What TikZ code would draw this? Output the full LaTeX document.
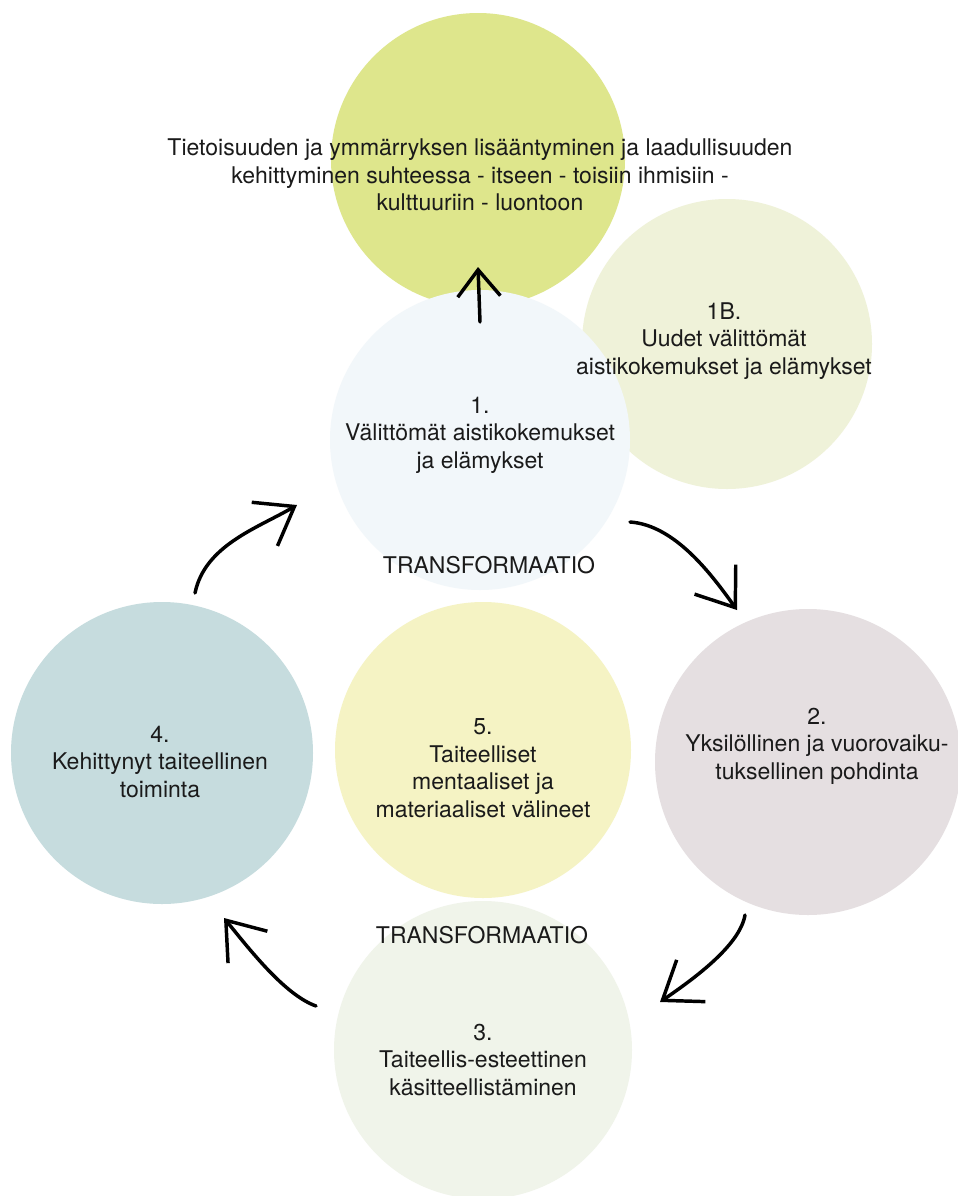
\documentclass[tikz,border=0pt]{standalone}
\usepackage{fontspec}
\setmainfont{TeX Gyre Heros}
\usetikzlibrary{arrows.meta}

\tikzset{
  blob/.style={circle, inner sep=0pt, draw=none},
  txt/.style={anchor=center, inner sep=0pt, align=center, text={rgb,255:red,26;green,26;blue,26},
    font=\fontsize{17.25}{20.6}\selectfont},
  arr/.style={line width=2.6pt, line cap=round, line join=round,
    -{Straight Barb[length=26pt, width=38pt, line width=2.6pt]}},
}

\begin{document}
\begin{tikzpicture}[x=0.75pt,y=0.75pt,yscale=-1,xscale=1]
\useasboundingbox (0,0) rectangle (957,1196);
\fill[white] (0,0) rectangle (957,1196);

%Shape: Circle [top]
\node[blob, fill={rgb, 255:red, 222; green, 230; blue, 140 }, minimum size=220.5pt] (top) at (478,160) {};
%Shape: Circle [1B]
\node[blob, fill={rgb, 255:red, 239; green, 242; blue, 217 }, minimum size=217.5pt] (c1b) at (727,344) {};
%Shape: Circle [1]
\node[blob, fill={rgb, 255:red, 242; green, 247; blue, 250 }, minimum size=225pt] (c1) at (480,440) {};
%Shape: Circle [2]
\node[blob, fill={rgb, 255:red, 229; green, 223; blue, 225 }, minimum size=229.5pt] (c2) at (808,762) {};
%Shape: Circle [3]
\node[blob, fill={rgb, 255:red, 240; green, 244; blue, 234 }, minimum size=223.5pt] (c3) at (483,1050) {};
%Shape: Circle [4]
\node[blob, fill={rgb, 255:red, 198; green, 220; blue, 222 }, minimum size=226.5pt] (c4) at (162,753) {};
%Shape: Circle [5]
\node[blob, fill={rgb, 255:red, 245; green, 243; blue, 196 }, minimum size=222pt] (c5) at (483,750) {};

%Arrow ends
\coordinate (upS) at (480,322);
\coordinate (upE) at (478,267);
\coordinate (a12S) at (630,522);
\coordinate (a12E) at (737,610);
\coordinate (a23S) at (745,915);
\coordinate (a23E) at (660,1002);
\coordinate (a34S) at (316,1006);
\coordinate (a34E) at (224,918);
\coordinate (a41S) at (195,593);
\coordinate (a41E) at (297,505);

%Straight Lines
\draw [arr, -{Straight Barb[length=20pt, width=32pt, line width=2.6pt]}] (upS) -- (upE) ;
%Curve Lines
\draw [arr] (a12S) .. controls (675,525) and (712,575) .. (a12E) ;
%Curve Lines
\draw [arr] (a23S) .. controls (740,945) and (695,978) .. (a23E) ;
%Curve Lines
\draw [arr] (a34S) .. controls (285,995) and (250,950) .. (a34E) ;
%Curve Lines
\draw [arr] (a41S) .. controls (205,545) and (258,528) .. (a41E) ;

% Text Node
\node[txt] (ttop) at (480,175) {Tietoisuuden ja ymmärryksen lisääntyminen ja laadullisuuden\\kehittyminen suhteessa - itseen - toisiin ihmisiin -\\kulttuuriin - luontoon};
% Text Node
\node[txt] (t1b) at (724,341) {1B.\\Uudet välittömät\\aistikokemukset ja elämykset};
% Text Node
\node[txt] (t1) at (480,435) {1.\\Välittömät aistikokemukset\\ja elämykset};
% Text Node
\node[txt] (tra) at (489,565) {TRANSFORMAATIO};
% Text Node
\node[txt] (t2) at (817,746) {2.\\Yksilöllinen ja vuorovaiku-\\tuksellinen pohdinta};
% Text Node
\node[txt] (t4) at (160,762) {4.\\Kehittynyt taiteellinen\\toiminta};
% Text Node
\node[txt] (t5) at (483,768) {5.\\Taiteelliset\\mentaaliset ja\\materiaaliset välineet};
% Text Node
\node[txt] (trb) at (482,935) {TRANSFORMAATIO};
% Text Node
\node[txt] (t3) at (483,1060) {3.\\Taiteellis-esteettinen\\käsitteellistäminen};

\end{tikzpicture}
\end{document}
